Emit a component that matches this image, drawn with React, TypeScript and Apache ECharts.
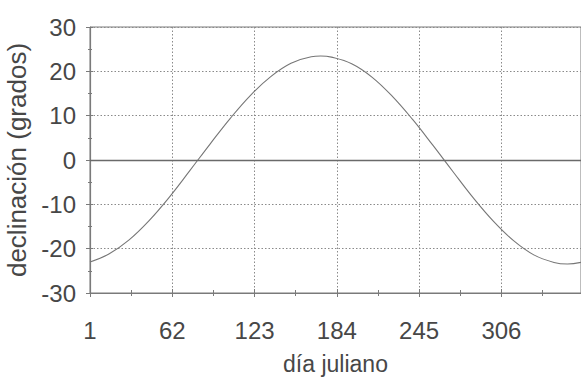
import React, { useEffect, useRef } from "react";
import * as echarts from "echarts";

const days = [1, 15, 30, 45, 60, 75, 90, 105, 120, 135, 150, 165, 172, 180, 195, 210, 225, 240, 255, 270, 285, 300, 315, 330, 345, 355, 365];
const declination = [-23.0, -21.2, -18.0, -13.6, -8.3, -2.4, 3.6, 9.4, 14.6, 18.8, 21.8, 23.3, 23.45, 23.2, 21.7, 18.7, 14.4, 9.2, 3.4, -2.6, -8.5, -13.8, -18.2, -21.4, -23.1, -23.45, -23.1];
const xTickStart = 1;
const xTickStep = 61;
const xMax = 365;
const yMin = -30;
const yMax = 30;
const yStep = 10;

const textColor = "#474747";
const lineColor = "#7a7a7a";
const font = "Liberation Sans, Arial, sans-serif";

export default function App() {
  const ref = useRef<HTMLDivElement>(null);
  useEffect(() => {
    if (!ref.current) return;
    const chart = echarts.init(ref.current, undefined, { renderer: "svg" });
    const tickStyle = { lineStyle: { color: lineColor, width: 1 } };
    const baseX = {
      type: "value" as const,
      min: xTickStart,
      max: xMax,
      interval: xTickStep,
      position: "bottom" as const,
    };
    const baseY = {
      type: "value" as const,
      min: yMin,
      max: yMax,
      interval: yStep,
      position: "left" as const,
    };
    chart.setOption({
      animation: false,
      backgroundColor: "#ffffff",
      grid: {
        left: 90,
        top: 27,
        width: 491,
        height: 266,
        containLabel: false,
        outerBoundsMode: "none",
        show: true,
        borderColor: lineColor,
        borderWidth: 1,
        backgroundColor: "transparent",
      },
      xAxis: [
        {
          ...baseX,
          name: "día juliano",
          nameLocation: "middle",
          nameGap: 59,
          nameTextStyle: { color: textColor, fontSize: 23, fontFamily: font },
          axisLine: { show: true, onZero: false, lineStyle: { color: lineColor, width: 1.2 } },
          axisTick: { show: true, inside: false, length: 4, ...tickStyle },
          minorTick: { show: true, splitNumber: 2, length: 3, ...tickStyle },
          axisLabel: {
            color: textColor,
            fontSize: 24,
            fontFamily: font,
            margin: 25,
            showMaxLabel: false,
            formatter: (v: number) => (v > 306 ? "" : String(v)),
          },
          splitLine: { show: true, lineStyle: { color: "#8a8a8a", type: [1.5, 2], width: 1 } },
        },
        {
          ...baseX,
          axisLine: { show: false, onZero: false },
          axisTick: { show: true, inside: true, length: 4, ...tickStyle },
          minorTick: { show: true, splitNumber: 2, length: 3, ...tickStyle },
          axisLabel: { show: false },
          splitLine: { show: false },
        },
      ],
      yAxis: [
        {
          ...baseY,
          name: "declinación (grados)",
          nameLocation: "middle",
          nameGap: 56,
          nameTextStyle: { color: textColor, fontSize: 26, fontFamily: font },
          axisLine: { show: true, onZero: false, lineStyle: { color: lineColor, width: 1.2 } },
          axisTick: { show: true, inside: false, length: 4, ...tickStyle },
          minorTick: { show: true, splitNumber: 2, length: 2, ...tickStyle },
          axisLabel: { color: textColor, fontSize: 24, fontFamily: font, margin: 14 },
          splitLine: { show: true, lineStyle: { color: "#8a8a8a", type: [1.5, 2], width: 1 } },
        },
        {
          ...baseY,
          axisLine: { show: false, onZero: false },
          axisTick: { show: true, inside: true, length: 3, ...tickStyle },
          minorTick: { show: true, splitNumber: 2, length: 2, ...tickStyle },
          axisLabel: { show: false },
          splitLine: { show: false },
        },
      ],
      series: [
        {
          type: "line",
          xAxisIndex: 0,
          yAxisIndex: 0,
          data: days.map((d, i) => [d, declination[i]]),
          smooth: 0.4,
          showSymbol: false,
          symbol: "none",
          lineStyle: { color: "#767676", width: 1.1 },
          markLine: {
            silent: true,
            symbol: "none",
            label: { show: false },
            lineStyle: { color: "#6a6a6a", type: "solid", width: 1.3 },
            data: [{ yAxis: 0 }],
          },
        },
      ],
    });
    return () => chart.dispose();
  }, []);
  return (
    <div
      ref={ref}
      style={{ position: "fixed", left: 0, top: 0, width: 581, height: 377, background: "#fff" }}
    />
  );
}
